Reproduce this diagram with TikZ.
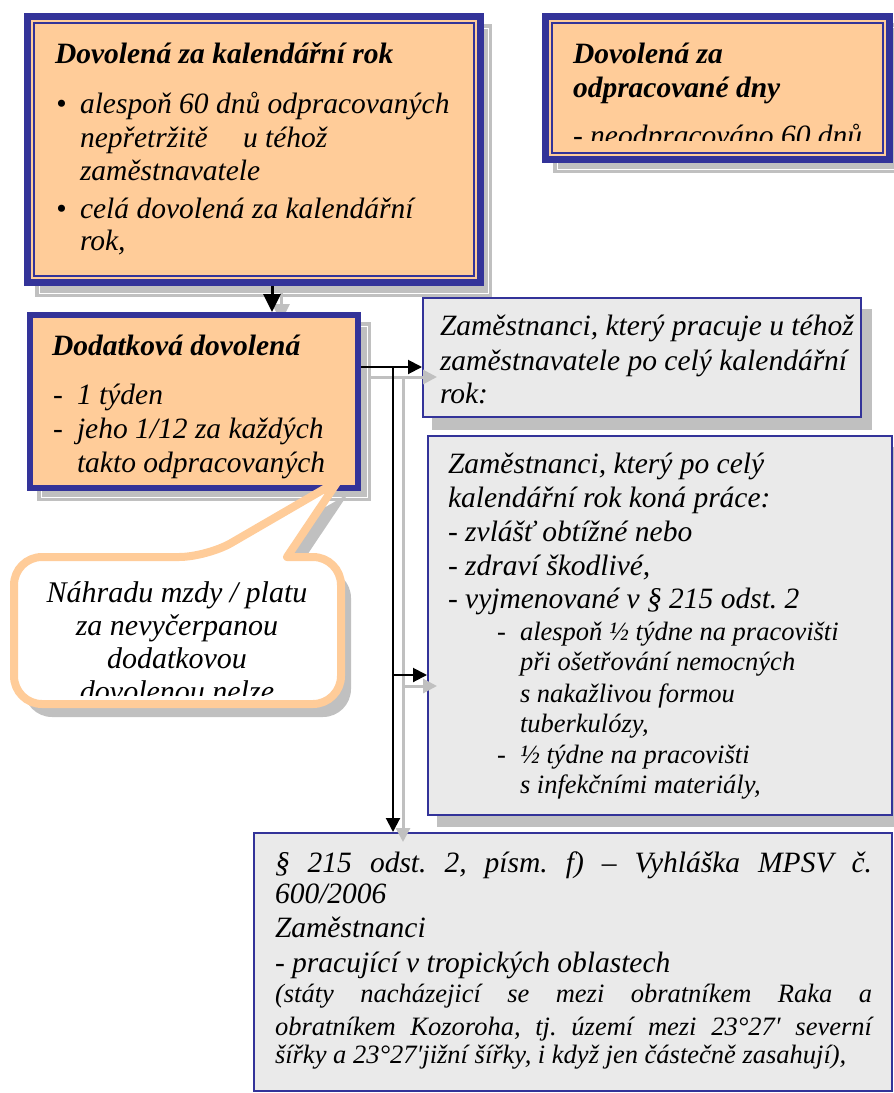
\documentclass[tikz,border=0pt]{standalone}
\usepackage{fontspec}
\setmainfont{Liberation Serif}
\usetikzlibrary{arrows.meta,calc}
\definecolor{dblue}{HTML}{333399}
\definecolor{orng}{HTML}{FFCC99}
\definecolor{shgray}{HTML}{C0C0C0}
\definecolor{boxgray}{HTML}{EAEAEA}
\begin{document}
\frenchspacing
\begin{tikzpicture}[x=1pt,y=-1pt,
  txt/.style={inner sep=0pt, outer sep=0pt, anchor=base west, font=\fontsize{29.5}{35}\selectfont\itshape},
  ttl/.style={txt, font=\fontsize{29.5}{35}\selectfont\bfseries\itshape},
  sml/.style={txt, font=\fontsize{26.5}{31}\selectfont\itshape},
  ctr/.style={txt, anchor=base, font=\fontsize{30}{35}\selectfont\itshape},
  obox/.style={draw=dblue, fill=orng, inner sep=0pt},
  gbox/.style={draw=dblue, fill=boxgray, line width=2pt, outer sep=1pt, inner sep=0pt},
  shfill/.style={fill=shgray},
  shline/.style={draw=white, line width=0.8pt},
  thinline/.style={draw=dblue, line width=1.5pt},
  blk/.style={draw=black, line width=2pt, -{Triangle[length=14pt,width=14pt]}},
  blkthick/.style={draw=black, line width=3pt, -{Triangle[length=18pt,width=17pt]}},
  gry/.style={draw=shgray, line width=3pt, -{Triangle[length=14pt,width=14pt]}},
  callout/.style={draw=orng, line width=8pt, fill=white, line join=round},
]
\useasboundingbox (0,0) rectangle (894,1093);

% ---------- box 1 ----------
\fill[shfill] (35,24) rectangle (492,297);
\draw[shline] (39,28) rectangle (488,293);
\node[obox, line width=7pt, outer sep=3.5pt, minimum width=453pt, minimum height=266pt] (b1) at (254,149.5) {};
\draw[thinline] (34,23) rectangle (474,276);
\node[ttl] (b1t) at (55,63) {Dovolená za kalendářní rok};
\node[txt] (b1u1) at (56,113) {•};
\node[txt] (b1l1) at (80,113) {alespoň 60 dnů odpracovaných};
\node[txt] (b1l2) at (80,147) {nepřetržitě};
\node[txt] (b1l2b) at (243,147) {u téhož};
\node[txt] (b1l3) at (80,180) {zaměstnavatele};
\node[txt] (b1u2) at (56,218) {•};
\node[txt] (b1l4) at (80,218) {celá dovolená za kalendářní};
\node[txt] (b1l5) at (80,250) {rok,};

% ---------- box 2 ----------
\fill[shfill] (553,23) rectangle (903,173);
\draw[shline] (557,27) rectangle (899,169);
\node[obox, line width=7pt, outer sep=3.5pt, minimum width=344pt, minimum height=143pt] (b2) at (717.5,88) {};
\draw[thinline] (552,23) rectangle (883,153);
\node[ttl] (b2t1) at (573,63) {Dovolená za};
\node[ttl] (b2t2) at (573,97) {odpracované dny};
\begin{scope}
  \clip (552,23) rectangle (883,140);
  \node[txt] (b2l1) at (573,145) {- neodpracováno 60 dnů};
\end{scope}

% ---------- arrow b1 -> b3 (shadow) ----------
\coordinate (a1) at (272,0);
\coordinate (a1s) at (281,0);
\draw[draw=shgray, line width=3pt, -{Triangle[length=18pt,width=17pt]}] (a1s |- b1.south) ++(0,6) -- ++(0,30);

% ---------- box 3 ----------
\fill[shfill] (37,322) rectangle (371,501);
\draw[shline] (41,326) rectangle (367,497);
\node[obox, line width=6pt, outer sep=3pt, minimum width=328pt, minimum height=173pt] (b3) at (194,401.5) {};
\node[ttl] (b3t) at (52,355) {Dodatková dovolená};
\node[txt] (b3d1) at (53,404) {-};
\node[txt] (b3l1) at (77,404) {1 týden};
\node[txt] (b3d2) at (53,438) {-};
\node[txt] (b3l2) at (77,438) {jeho 1/12 za každých};
\node[txt] (b3l3) at (77,472) {takto odpracovaných};

\draw[blkthick] (a1 |- b1.south) -- (a1 |- b3.north);

% ---------- callout ----------
\begin{scope}[shift={(10,13)}]
  \fill[shgray] (14,630) [rounded corners=28pt] -- (14,557) -- (207,557) [sharp corners] -- (338,481) -- (287,557) [rounded corners=28pt] -- (341,557) -- (341,704) -- (14,704) -- cycle;
\end{scope}
\draw[callout] (14,630) [rounded corners=28pt] -- (14,557) -- (207,557) [sharp corners] -- (338,481) -- (287,557) [rounded corners=28pt] -- (341,557) -- (341,704) -- (14,704) -- cycle;
\begin{scope}
  \clip (18,561) rectangle (337,695);
  \node[ctr] (c1) at (177,602) {Náhradu mzdy / platu};
  \node[ctr] (c2) at (177,635) {za nevyčerpanou};
  \node[ctr] (c3) at (177,668) {dodatkovou};
  \node[ctr] (c4) at (177,701) {dovolenou nelze};
\end{scope}

% ---------- box 4 ----------
\fill[shfill] (432,309) rectangle (872,430);
\node[gbox, minimum width=438pt, minimum height=119pt] (b4) at (642,357.5) {};
\node[txt] (b4l1) at (440,335) {Zaměstnanci, který pracuje u téhož};
\node[txt] (b4l2) at (440,370) {zaměstnavatele po celý kalendářní};
\node[txt] (b4l3) at (440,403) {rok:};

% ---------- box 5 ----------
\fill[shfill] (437,447) rectangle (903,827);
\node[gbox, minimum width=464pt, minimum height=379pt] (b5) at (660,625.5) {};
\node[txt] (b5l1) at (448,473) {Zaměstnanci, který po celý};
\node[txt] (b5l2) at (448,507) {kalendářní rok koná práce:};
\node[txt] (b5l3) at (448,541) {- zvlášť obtížné nebo};
\node[txt] (b5l4) at (448,575) {- zdraví škodlivé,};
\node[txt] (b5l5) at (448,608) {- vyjmenované v § 215 odst. 2};
\node[sml] (b5d1) at (497,640) {-};
\node[sml] (b5s1) at (520,640) {alespoň ½ týdne na pracovišti};
\node[sml] (b5s2) at (520,670) {při ošetřování nemocných};
\node[sml] (b5s3) at (520,702) {s nakažlivou formou};
\node[sml] (b5s4) at (520,732) {tuberkulózy,};
\node[sml] (b5d2) at (497,763) {-};
\node[sml] (b5s5) at (520,763) {½ týdne na pracovišti};
\node[sml] (b5s6) at (520,793) {s infekčními materiály,};

% ---------- box 6 ----------
\node[gbox, minimum width=638pt, minimum height=258pt] (b6) at (573,962) {};
\node[txt] (b6l1) at (275,872) {\makebox[597pt][s]{§ 215 odst. 2, písm. f) – Vyhláška MPSV č.}};
\node[txt] (b6l2) at (275,903) {600/2006};
\node[txt] (b6l3) at (275,937) {Zaměstnanci};
\node[txt] (b6l4) at (275,972) {- pracující v tropických oblastech};
\node[sml] (b6l5) at (275,1002) {\makebox[597pt][s]{(státy nacházejicí se mezi obratníkem Raka a}};
\node[sml] (b6l6) at (275,1035) {\makebox[597pt][s]{obratníkem Kozoroha, tj. území mezi 23°27′ severní}};
\node[sml] (b6l7) at (275,1063) {šířky a 23°27′jižní šířky, i když jen částečně zasahují),};

% ---------- connectors ----------
\coordinate (j1) at (393,367);
\coordinate (j2) at (393,675);
\coordinate (g1) at (403,377);
\coordinate (g2) at (403,686);
\coordinate (g0) at (371,377);
\draw[gry] (g0) -- ($(b4.west |- g1)+(15,0)$);
\draw[gry] (g1) -- ($(g1 |- b6.north)+(0,10)$);
\draw[gry] (g2) -- ($(b5.west |- g2)+(10,0)$);
\draw[draw=black, line width=2pt] (b3.east |- j1) -- (j1);
\draw[blk] (j1) -- (b4.west |- j1);
\draw[blk] (j1) -- (j1 |- b6.north);
\draw[blk] (j2) -- (b5.west |- j2);
\end{tikzpicture}
\end{document}
